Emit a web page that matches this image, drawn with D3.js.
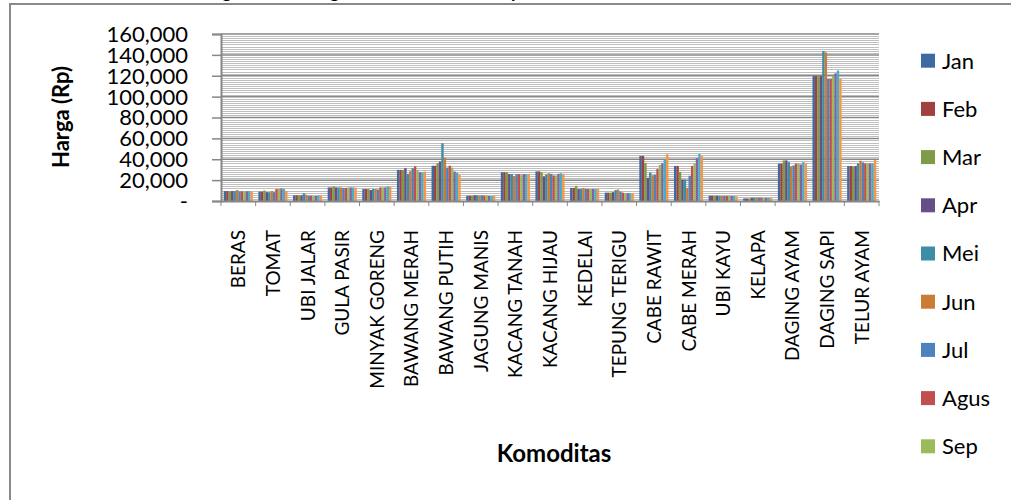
<!DOCTYPE html>
<html>
<head>
<meta charset="utf-8">
<script src="https://cdn.jsdelivr.net/npm/d3@7"></script>
<style>
  html, body { margin: 0; padding: 0; background: #ffffff; }
  svg { display: block; }
  text { font-family: Lato, "Open Sans", sans-serif; fill: #000; }
</style>
</head>
<body>
<svg id="chart" width="1011" height="500"></svg>
<script>
// ---------- data ----------
const categories = ["BERAS", "TOMAT", "UBI JALAR", "GULA PASIR", "MINYAK GORENG", "BAWANG MERAH",
  "BAWANG PUTIH", "JAGUNG MANIS", "KACANG TANAH", "KACANG HIJAU", "KEDELAI", "TEPUNG TERIGU",
  "CABE RAWIT", "CABE MERAH", "UBI KAYU", "KELAPA", "DAGING AYAM", "DAGING SAPI", "TELUR AYAM"];

const months = ["Jan", "Feb", "Mar", "Apr", "Mei", "Jun", "Jul", "Agus", "Sep", "Okt", "Nov", "Des"];
const legendMonths = ["Jan", "Feb", "Mar", "Apr", "Mei", "Jun", "Jul", "Agus", "Sep"];

// values per commodity, Jan..Des
const beras        = [9500, 9500, 9300, 9500, 9500, 10500, 9300, 9300, 9300, 9300, 9500, 9300];
const tomat        = [9000, 9000, 10000, 8500, 8500, 9500, 8500, 11500, 11500, 12000, 11500, 9500];
const ubiJalar     = [5500, 5500, 5500, 5500, 7300, 6000, 5000, 5000, 4800, 4800, 5500, 5500];
const gulaPasir    = [13000, 13000, 14000, 13000, 13000, 13000, 12500, 12500, 13000, 13000, 13000, 12800];
const minyakGoreng = [11500, 11500, 11500, 10500, 11500, 11500, 11000, 13000, 13000, 13000, 14000, 13500];
const bawangMerah  = [29800, 29800, 29800, 31500, 26000, 28500, 31400, 33200, 29800, 27600, 27600, 28200];
const bawangPutih  = [33800, 33800, 36200, 37800, 55300, 41300, 32000, 33800, 32000, 28200, 27000, 25300];
const jagungManis  = [5000, 5000, 5000, 5500, 5500, 5000, 5500, 5000, 5000, 4800, 4800, 4800];
const kacangTanah  = [27600, 27600, 27600, 25800, 25800, 23800, 25800, 25800, 24800, 25800, 25800, 25800];
const kacangHijau  = [28400, 28400, 27600, 23500, 25500, 26600, 26000, 24500, 24500, 26000, 26600, 26000];
const kedelai      = [12500, 12500, 14500, 11500, 11500, 12500, 11500, 11500, 11500, 11500, 11500, 11500];
const tepungTerigu = [8000, 8000, 8000, 8500, 10500, 11000, 9000, 8000, 7500, 7500, 7500, 7500];
const cabeRawit    = [43200, 43200, 36500, 22200, 27200, 24700, 25200, 30600, 34600, 36200, 39700, 44800];
const cabeMerah    = [33600, 33600, 27900, 20500, 20500, 12600, 24200, 33600, 36200, 41000, 45100, 43200];
const ubiKayu      = [5000, 5000, 5000, 5000, 4800, 4800, 4800, 4800, 4800, 4800, 4800, 4500];
const kelapa       = [2500, 2500, 2500, 3000, 3200, 3200, 3200, 3200, 3000, 3000, 3000, 3200];
const dagingAyam   = [35900, 35900, 38900, 38900, 37200, 33000, 34100, 35900, 35900, 35000, 37200, 36300];
const dagingSapi   = [119700, 119700, 119700, 119700, 143700, 142400, 116900, 116900, 119700, 122300, 125000, 116900];
const telurAyam    = [33500, 33500, 33000, 33500, 36000, 38600, 37000, 36000, 36000, 36000, 36000, 39400];

const seriesByCategory = [beras, tomat, ubiJalar, gulaPasir, minyakGoreng, bawangMerah, bawangPutih,
  jagungManis, kacangTanah, kacangHijau, kedelai, tepungTerigu, cabeRawit, cabeMerah, ubiKayu,
  kelapa, dagingAyam, dagingSapi, telurAyam];

const yTicks = [0, 20000, 40000, 60000, 80000, 100000, 120000, 140000, 160000];

const colors = ["#3e6a9f", "#9f413e", "#7f9b48", "#664f86", "#3b8ea5", "#cc7b37",
                "#4f81bd", "#c0504d", "#9bbb59", "#8064a2", "#4bacc6", "#f79646"];

// ---------- layout ----------
const svg = d3.select("#chart");
const plot = { left: 221, right: 879, top: 34, bottom: 201 };

const x = d3.scaleBand().domain(categories).range([plot.left, plot.right])
  .paddingInner(0.16).paddingOuter(0.08);
const xm = d3.scaleBand().domain(months).range([0, x.bandwidth()]).padding(0);
const y = d3.scaleLinear().domain([0, 160000]).range([plot.bottom, plot.top]);

// outer chart border (partially outside the window)
svg.append("rect").attr("x", 10).attr("y", 4).attr("width", 1100).attr("height", 600)
  .attr("fill", "none").attr("stroke", "#8a8a8a").attr("stroke-width", 2);

// title (mostly cut off above the window)
const title = svg.append("text")
  .attr("y", -2)
  .attr("font-weight", "bold").attr("font-size", 18)
  .text("Rata-rata Harga Bahan Pangan Komoditas Utama per Bulan");
(function alignTitle() {
  const node = title.node();
  const s = node.textContent;
  const gi = s.indexOf("g");
  title.attr("x", 0);
  const pos = node.getStartPositionOfChar(gi).x;
  title.attr("x", 225 - pos - 3);
})();

// minor gridlines
const minorTicks = d3.range(2000, 160000, 2000).filter(v => v % 20000 !== 0);
svg.append("g").selectAll("line").data(minorTicks).join("line")
  .attr("x1", plot.left).attr("x2", plot.right)
  .attr("y1", d => Math.round(y(d)) + 0.5).attr("y2", d => Math.round(y(d)) + 0.5)
  .attr("stroke", "#bfbfbf").attr("stroke-width", 1);

// major gridlines
svg.append("g").selectAll("line").data(yTicks.filter(d => d > 0)).join("line")
  .attr("x1", plot.left).attr("x2", plot.right)
  .attr("y1", d => y(d)).attr("y2", d => y(d))
  .attr("stroke", "#878787").attr("stroke-width", 1.5);

// bars
const groups = svg.append("g").selectAll("g").data(categories).join("g")
  .attr("transform", d => `translate(${x(d)},0)`);
groups.selectAll("rect")
  .data((d, i) => seriesByCategory[i].map((v, j) => ({ m: months[j], v, j })))
  .join("rect")
  .attr("x", d => xm(d.m))
  .attr("width", xm.bandwidth())
  .attr("y", d => y(d.v))
  .attr("height", d => y(0) - y(d.v))
  .attr("fill", d => colors[d.j]);

// y axis
const yAxis = d3.axisLeft(y).tickValues(yTicks).tickSize(9).tickPadding(24)
  .tickFormat(d => d === 0 ? "-" : d3.format(",")(d));
const ya = svg.append("g").attr("transform", `translate(${plot.left},0)`).call(yAxis);
ya.select(".domain").attr("stroke", "#878787").attr("stroke-width", 2);
ya.selectAll(".tick line").attr("stroke", "#878787").attr("stroke-width", 1.5);
ya.selectAll(".tick text").attr("font-size", 22).attr("font-family", "Lato, sans-serif").attr("fill", "#000")
  .attr("dy", "0.34em");

// x axis
const xAxis = d3.axisBottom(x).tickSize(0).tickFormat("");
const xa = svg.append("g").attr("transform", `translate(0,${plot.bottom})`).call(xAxis);
xa.select(".domain").attr("stroke", "#878787").attr("stroke-width", 2);
// boundary ticks
const bounds = categories.map(c => x(c) - x.step() * x.paddingInner() / 2).concat([plot.right]);
svg.append("g").selectAll("line").data(bounds).join("line")
  .attr("x1", d => d).attr("x2", d => d)
  .attr("y1", plot.bottom).attr("y2", plot.bottom + 5)
  .attr("stroke", "#878787").attr("stroke-width", 1);

// category labels (rotated)
svg.append("g").selectAll("text").data(categories).join("text")
  .attr("transform", d => `translate(${x(d) + x.bandwidth() / 2 + 7},230) rotate(-90)`)
  .attr("text-anchor", "end")
  .attr("font-size", 19)
  .text(d => d);

// axis titles
svg.append("text")
  .attr("transform", "translate(69,117) rotate(-90)")
  .attr("text-anchor", "middle")
  .attr("font-weight", "bold").attr("font-size", 22)
  .text("Harga (Rp)");

svg.append("text")
  .attr("x", 554).attr("y", 462)
  .attr("text-anchor", "middle")
  .attr("font-weight", "bold").attr("font-size", 24)
  .text("Komoditas");

// legend (only the first nine entries fit)
const legend = svg.append("g").selectAll("g").data(legendMonths).join("g")
  .attr("transform", (d, i) => `translate(921,${60.7 + i * 48.2})`);
legend.append("rect").attr("x", 0).attr("y", -7).attr("width", 14).attr("height", 14)
  .attr("fill", (d, i) => colors[i]);
legend.append("text").attr("x", 21).attr("y", 0).attr("dy", "0.36em")
  .attr("font-size", 22)
  .text(d => d);
</script>
</body>
</html>
